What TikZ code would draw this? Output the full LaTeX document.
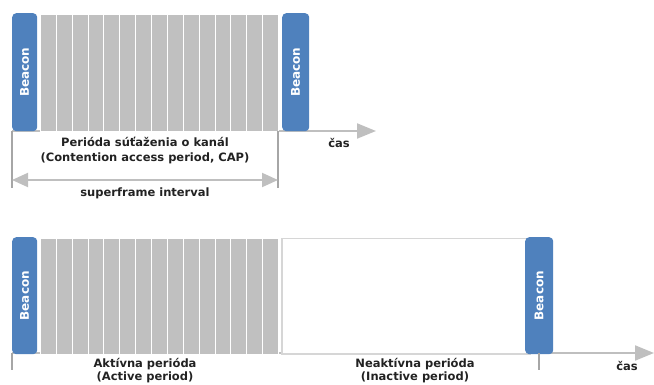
\documentclass[tikz,border=0pt]{standalone}
\usepackage{fontspec}
\setmainfont{DejaVu Sans}
\usetikzlibrary{arrows.meta}
\definecolor{beaconblue}{HTML}{4F81BD}
\definecolor{slotgray}{HTML}{C0C0C0}
\definecolor{axisgray}{HTML}{BFBFBF}
\definecolor{tickgray}{HTML}{A6A6A6}
\definecolor{framegray}{HTML}{D6D6D6}
\definecolor{labeltext}{HTML}{222222}
\begin{document}
\begin{tikzpicture}[x=1pt,y=-1pt,
  beacon/.style={fill=beaconblue, rounded corners=4pt, inner sep=0pt,
    anchor=north west, text=white, font=\bfseries\fontsize{12}{14}\selectfont},
  slotbox/.style={fill=slotgray, draw=white, line width=1pt, inner sep=0pt,
    minimum width=15.9pt, anchor=north west},
  idlebox/.style={draw=framegray, line width=1.5pt, fill=white},
  timeaxis/.style={draw=axisgray, line width=2pt, -{Triangle[length=19pt,width=15pt]}},
  span/.style={draw=axisgray, line width=2pt,
    {Triangle[length=16pt,width=14pt]}-{Triangle[length=16pt,width=14pt]}},
  tick/.style={draw=tickgray, line width=1.3pt},
  caption/.style={text=labeltext, align=center, inner sep=0pt,
    font=\bfseries\fontsize{11.5}{15}\selectfont},
  lowcaption/.style={caption, font=\bfseries\fontsize{11.5}{13.5}\selectfont}
]
\useasboundingbox (0,0) rectangle (654,385);

% ---------- superframe with contention access period ----------
\coordinate (a0) at (12,131);
\coordinate (a1) at (376,131);
\draw[timeaxis] (a0) -- (a1);

\foreach \i in {0,...,14}{
  \node[slotbox, minimum height=117pt] (ts\i) at ({40+15.87*\i},14) {};
}
\node[beacon, minimum width=25pt, minimum height=118pt] (tb1) at (12,13) {\rotatebox{90}{Beacon}};
\node[beacon, minimum width=27pt, minimum height=118pt] (tb2) at (282,13) {\rotatebox{90}{Beacon}};

\coordinate (tl0) at (12,131);  \coordinate (tl1) at (12,188);
\coordinate (tr0) at (278,131); \coordinate (tr1) at (278,188);
\draw[tick] (tl0) -- (tl1);
\draw[tick] (tr0) -- (tr1);
\coordinate (sp0) at (12,180); \coordinate (sp1) at (278,180);
\draw[span] (sp0) -- (sp1);

\node[caption] (cap) at (145,151) {Perióda súťaženia o kanál\\(Contention access period, CAP)};
\node[caption] (sfi) at (145,193) {superframe interval};
\node[caption] (t1) at (339,143) {čas};

% ---------- superframe with active and inactive parts ----------
\coordinate (b0) at (12,353);
\coordinate (b1) at (654,353);
\draw[timeaxis] (b0) -- (b1);

\node[idlebox, minimum width=248pt, minimum height=115pt, inner sep=0pt, anchor=north west] (idle) at (281,238) {};
\foreach \i in {0,...,14}{
  \node[slotbox, minimum height=116pt] (bs\i) at ({40+15.87*\i},238) {};
}
\node[beacon, minimum width=25pt, minimum height=117pt] (bb1) at (12,237) {\rotatebox{90}{Beacon}};
\node[beacon, minimum width=28pt, minimum height=117pt] (bb2) at (525,237) {\rotatebox{90}{Beacon}};

\coordinate (bl0) at (12,353);  \coordinate (bl1) at (12,370);
\coordinate (br0) at (539,353); \coordinate (br1) at (539,370);
\draw[tick] (bl0) -- (bl1);
\draw[tick] (br0) -- (br1);

\node[lowcaption] (act) at (145,370.5) {Aktívna perióda\\(Active period)};
\node[lowcaption] (inact) at (415,370.5) {Neaktívna perióda\\(Inactive period)};
\node[caption] (t2) at (627,366) {čas};
\end{tikzpicture}
\end{document}
